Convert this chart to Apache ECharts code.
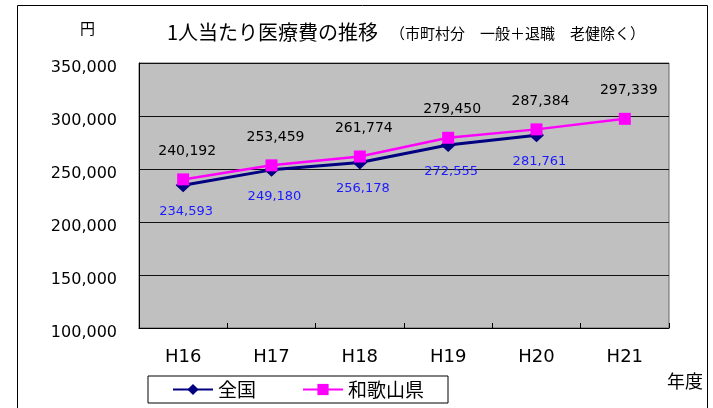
<!DOCTYPE html>
<html>
<head>
<meta charset="utf-8">
<script src="https://cdn.jsdelivr.net/npm/echarts@6/dist/echarts.min.js"></script>
<style>html,body{margin:0;padding:0;background:#fff;}#c{width:713px;height:408px;}</style>
</head>
<body>
<div id="c"></div>
<script>
const categories = ['H16', 'H17', 'H18', 'H19', 'H20', 'H21'];
const zenkoku = [234593, 249180, 256178, 272555, 281761, null];
const wakayama = [240192, 253459, 261774, 279450, 287384, 297339];
const seriesNames = ['全国', '和歌山県'];
const titleMain = '1人当たり医療費の推移';
const titleSub = '（市町村分　一般＋退職　老健除く）';
const yUnit = '円';
const xUnit = '年度';

const NUM = '"DejaVu Sans", "Noto Sans CJK JP", sans-serif';
const CJK = '"Noto Sans CJK JP", "DejaVu Sans", sans-serif';
const fmt = v => v == null ? '' : v.toLocaleString('en-US');

const chart = echarts.init(document.getElementById('c'), null, {renderer: 'canvas'});
chart.setOption({
  animation: false,
  backgroundColor: '#fff',
  title: {
    text: titleMain + '{s|' + titleSub + '}',
    left: 162, top: 17,
    textStyle: {
      fontFamily: CJK, fontSize: 20, fontWeight: 'normal', color: '#000',
      rich: { s: { fontFamily: CJK, fontSize: 15, color: '#000', padding: [3, 0, 0, 12] } }
    }
  },
  graphic: [
    { type: 'rect', shape: {x: 17.5, y: 5.5, width: 690, height: 430}, style: {fill: 'none', stroke: '#000', lineWidth: 1}, silent: true },
    { type: 'text', left: 80, top: 21, style: {text: yUnit, font: '15px ' + CJK, fill: '#000'} },
    { type: 'text', left: 667, top: 372, style: {text: xUnit, font: '18px ' + CJK, fill: '#000'} }
  ],
  legend: {
    data: seriesNames,
    left: 148, top: 376,
    orient: 'horizontal',
    borderColor: '#000', borderWidth: 1,
    padding: [4, 24, 4, 24],
    itemWidth: 40, itemHeight: 14, itemGap: 46,
    textStyle: { fontFamily: CJK, fontSize: 19, color: '#000' }
  },
  grid: {
    left: 139, right: 44, top: 63, bottom: 80,
    show: true, backgroundColor: '#C0C0C0', borderColor: '#666', borderWidth: 1
  },
  xAxis: {
    type: 'category', data: categories, boundaryGap: true,
    axisLine: { lineStyle: { color: '#000', width: 1 } },
    axisTick: { show: true, inside: true, length: 5, lineStyle: { color: '#000' } },
    axisLabel: { fontFamily: NUM, fontSize: 18, color: '#000', margin: 20 },
    splitLine: { show: false }
  },
  yAxis: {
    type: 'value', min: 100000, max: 350000, interval: 50000,
    axisLine: { show: true, lineStyle: { color: '#000', width: 1 } },
    axisTick: { show: false },
    axisLabel: { fontFamily: NUM, fontSize: 16, color: '#000', margin: 22, verticalAlign: 'top', lineHeight: 10, formatter: v => fmt(v) },
    splitLine: { show: true, lineStyle: { color: '#111', width: 1 } }
  },
  series: [
    {
      name: seriesNames[0], type: 'line', data: zenkoku,
      symbol: 'diamond', symbolSize: [15, 14],
      lineStyle: { color: '#000080', width: 3 },
      itemStyle: { color: '#000080' },
      label: { show: true, position: 'bottom', distance: 13, offset: [3, 0], fontFamily: NUM, fontSize: 13, color: '#1a1aff', formatter: p => fmt(p.value) },
      z: 2
    },
    {
      name: seriesNames[1], type: 'line', data: wakayama,
      symbol: 'rect', symbolSize: 12,
      lineStyle: { color: '#FF00FF', width: 2.5 },
      itemStyle: { color: '#FF00FF' },
      label: { show: true, position: 'top', distance: 15, offset: [4, 0], fontFamily: NUM, fontSize: 14, color: '#000', formatter: p => fmt(p.value) },
      z: 3
    }
  ]
});
</script>
</body>
</html>
